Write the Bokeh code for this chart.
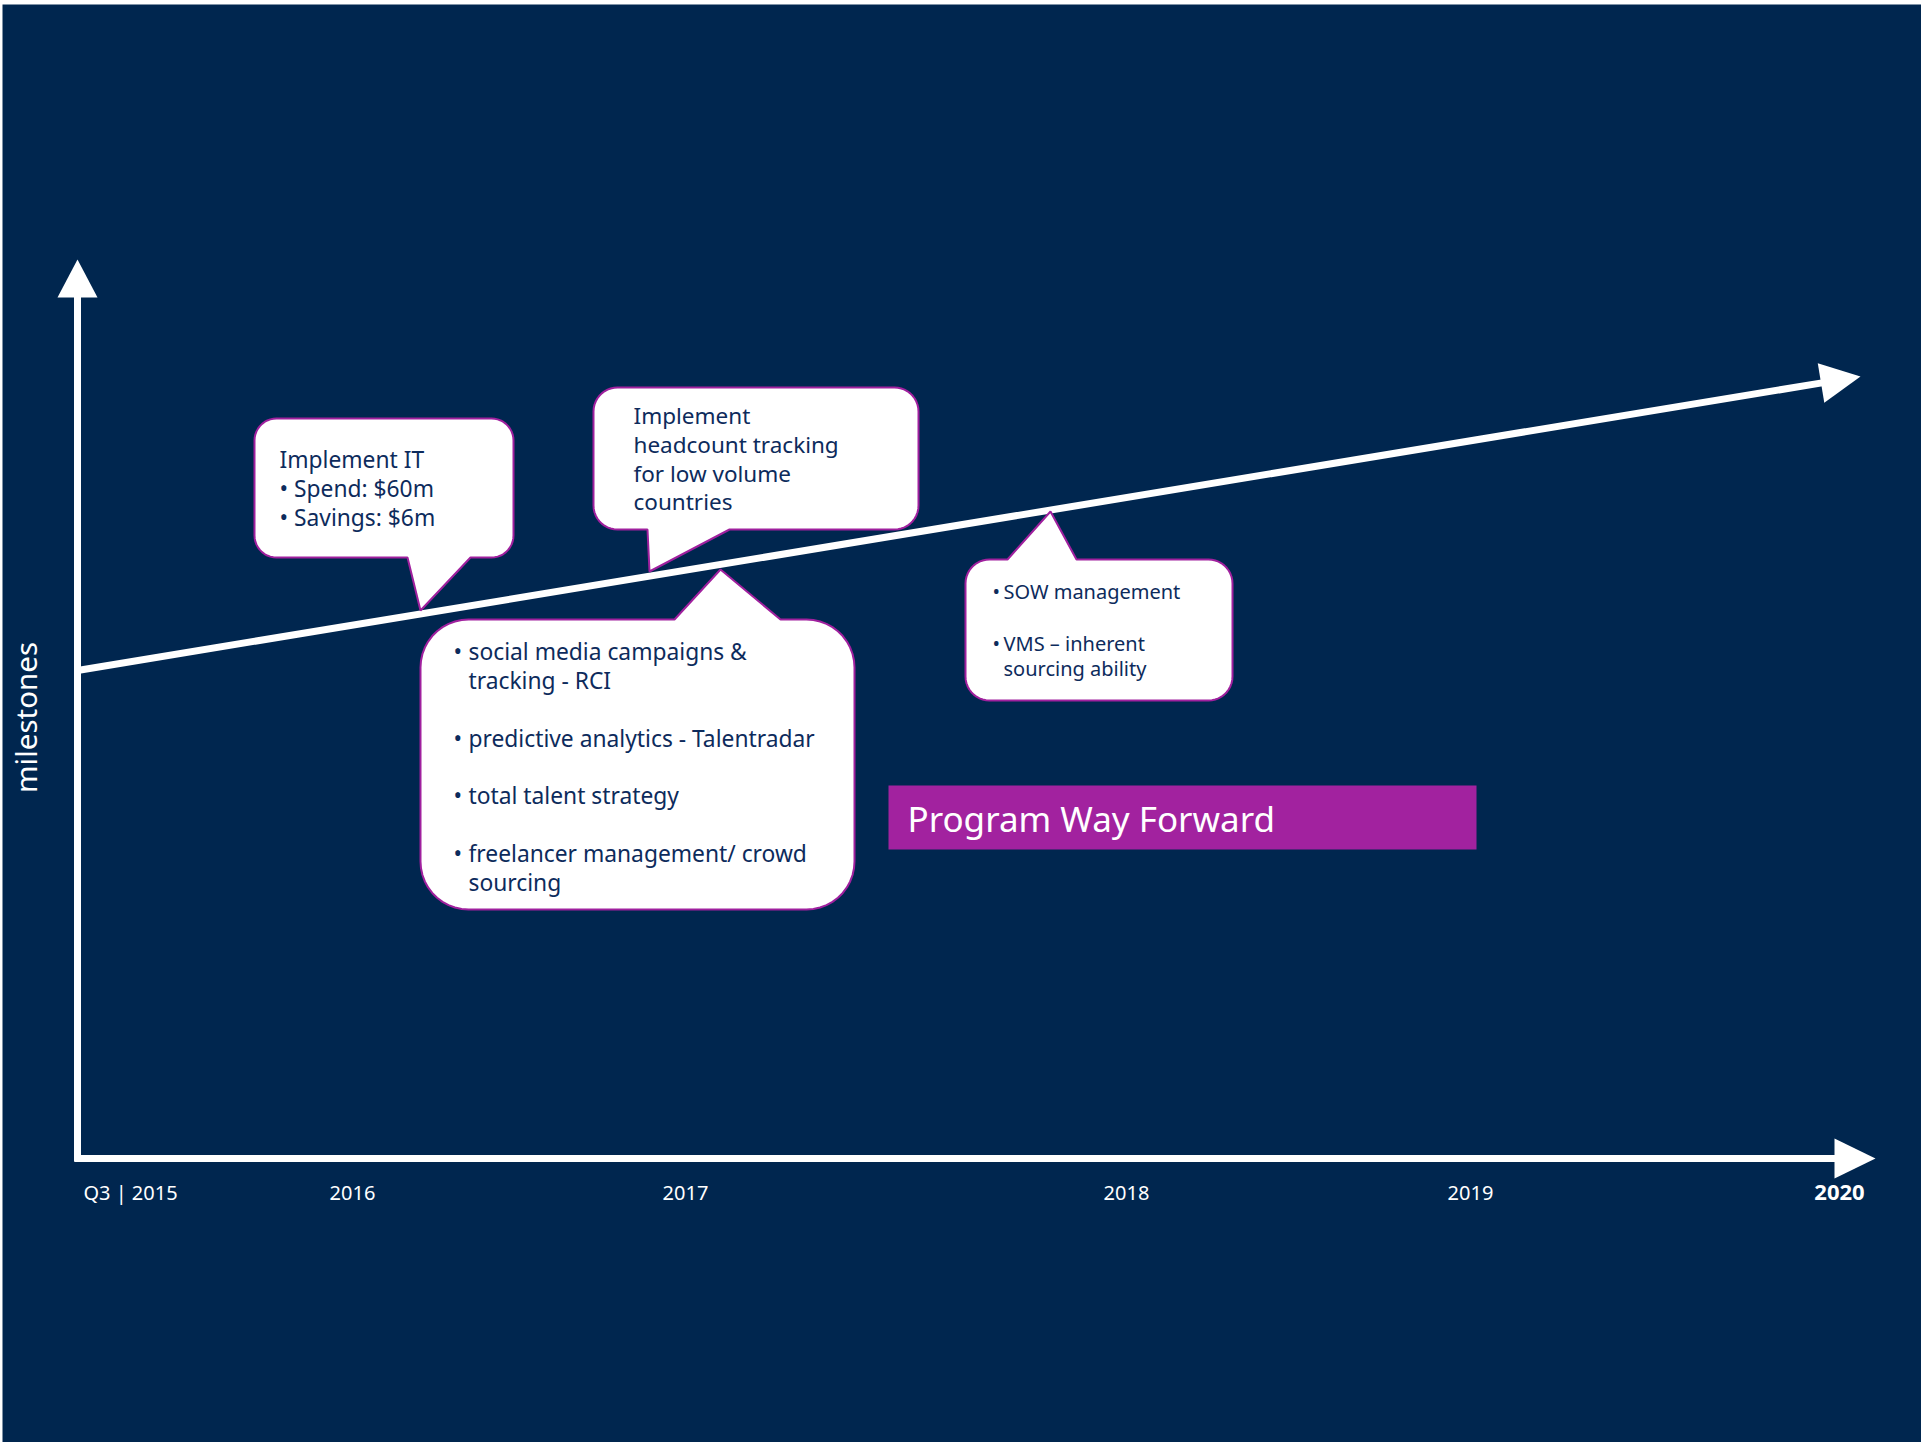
import numpy as np
from bokeh.plotting import figure
from bokeh.models import Range1d
from bokeh.core.properties import value
from bokeh.embed import file_html
from bokeh.resources import INLINE

# ---------------- data ----------------
tick_labels = ["Q3 | 2015", "2016", "2017", "2018", "2019", "2020"]
tick_bold = [False, False, False, False, False, True]
y_axis_label = "milestones"
banner_text = "Program Way Forward"

callout_it = ["Implement IT", "• Spend: $60m", "• Savings: $6m"]
callout_headcount = ["Implement", "headcount tracking", "for low volume", "countries"]
callout_talent = [("•", "social media campaigns &"), ("", "tracking - RCI"),
                  ("•", "predictive analytics - Talentradar"),
                  ("•", "total talent strategy"),
                  ("•", "freelancer management/ crowd"), ("", "sourcing")]
callout_sow = [("•", "SOW management"), ("•", "VMS – inherent"), ("", "sourcing ability")]

# ---------------- layout (pixel frame) ----------------
W, H = 1921, 1442
BG = "#00264F"
WHITE = "#FFFFFF"
MAG = "#A0209E"
TXT = "#0D2B5C"
FONT = "Noto Sans"

tick_x = [130, 352, 685, 1126, 1470, 1839]
tick_y = 1192

p = figure(width=W, height=H, x_range=Range1d(0, W), y_range=Range1d(H, 0),
           output_backend="svg", toolbar_location=None, min_border=0)
p.axis.visible = False
p.grid.visible = False
p.outline_line_color = None
p.background_fill_color = WHITE
p.border_fill_color = WHITE

# navy slide area
p.quad(left=[2], right=[W], top=[4], bottom=[H], fill_color=BG, line_color=None)

LW = 7
# vertical axis with arrow
p.segment(x0=[77], y0=[1161], x1=[77], y1=[290], line_color=WHITE, line_width=LW)
p.patch(x=[57, 77, 97], y=[297, 259, 297], fill_color=WHITE, line_color=None)
# horizontal axis with arrow
p.segment(x0=[74], y0=[1158], x1=[1840], y1=[1158], line_color=WHITE, line_width=LW)
p.patch(x=[1834, 1875, 1834], y=[1138, 1158, 1178], fill_color=WHITE, line_color=None)

# trend arrow
sx, sy, tx, ty = 77, 670, 1860, 376
d = np.array([tx - sx, ty - sy], float)
u = d / np.linalg.norm(d)
nrm = np.array([-u[1], u[0]])
hl, hw = 40, 20
base = np.array([tx, ty]) - u * hl
p.segment(x0=[sx], y0=[sy], x1=[base[0] + u[0] * 4], y1=[base[1] + u[1] * 4],
          line_color=WHITE, line_width=LW)
p.patch(x=[base[0] + nrm[0] * hw, tx, base[0] - nrm[0] * hw],
        y=[base[1] + nrm[1] * hw, ty, base[1] - nrm[1] * hw],
        fill_color=WHITE, line_color=None)


def callout(x0, y0, x1, y1, r, side, xa, xb, tip):
    t = np.linspace(0, np.pi / 2, 12)
    xs, ys = [], []
    xs += [x0 + r]; ys += [y0]
    if side == "top":
        xs += [xa, tip[0], xb]; ys += [y0, tip[1], y0]
    xs += [x1 - r]; ys += [y0]
    cx, cy = x1 - r, y0 + r
    xs += list(cx + r * np.sin(t)); ys += list(cy - r * np.cos(t))
    cx, cy = x1 - r, y1 - r
    xs += list(cx + r * np.cos(t)); ys += list(cy + r * np.sin(t))
    if side == "bottom":
        xs += [xb, tip[0], xa]; ys += [y1, tip[1], y1]
    cx, cy = x0 + r, y1 - r
    xs += list(cx - r * np.sin(t)); ys += list(cy + r * np.cos(t))
    cx, cy = x0 + r, y0 + r
    xs += list(cx - r * np.cos(t)); ys += list(cy - r * np.sin(t))
    return xs, ys


shapes = [
    callout(254, 418, 513, 557, 22, "bottom", 407, 470, (420, 610)),
    callout(593, 387, 918, 529, 24, "bottom", 647, 729, (649, 571)),
    callout(420, 619, 854, 909, 48, "top", 674, 780, (720, 569)),
    callout(965, 559, 1232, 700, 24, "top", 1007, 1076, (1050, 511)),
]
p.patches(xs=[s[0] for s in shapes], ys=[s[1] for s in shapes],
          fill_color=WHITE, line_color=MAG, line_width=2)


def txt(xs, ys, texts, size, color=TXT, align="left", style="normal", angle=0):
    p.text(x=xs, y=ys, text=texts, text_font=value(FONT),
           text_font_size=f"{size}px", text_color=color, text_align=align,
           text_baseline="middle", text_font_style=style, angle=angle)


# callout texts
txt([279] * 3, [459, 488, 517], callout_it, 22.8)
txt([633] * 4, [415, 444, 473, 501], callout_headcount, 22.5)
ty_t = [651, 680, 738, 795, 853, 882]
txt([453] * 6, ty_t, [b for b, _ in callout_talent], 22.8)
txt([468] * 6, ty_t, [s for _, s in callout_talent], 22.8)
ty_s = [591, 643, 668]
txt([992] * 3, ty_s, [b for b, _ in callout_sow], 20)
txt([1003] * 3, ty_s, [s for _, s in callout_sow], 20)

# banner
p.quad(left=[888], right=[1476], top=[785], bottom=[849], fill_color="#A2229F", line_color=None)
txt([907], [818], [banner_text], 35, color=WHITE)

# y label
txt([25], [717], [y_axis_label], 29.5, color=WHITE, align="center", angle=np.pi / 2)

# ticks
for xv, lab, b in zip(tick_x, tick_labels, tick_bold):
    txt([xv], [tick_y], [lab], 22 if b else 20, color=WHITE, align="center",
        style="bold" if b else "normal")

open("out.html", "w").write(file_html(p, INLINE))
